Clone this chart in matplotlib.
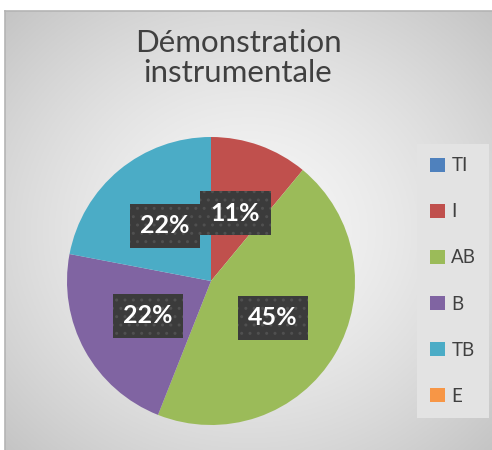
import numpy as np
import matplotlib
matplotlib.use("Agg")
import matplotlib.pyplot as plt
from matplotlib.patches import Patch

categories = ["TI", "I", "AB", "B", "TB", "E"]
values = [0, 11, 45, 22, 22, 0]
colors = ["#4f81bd", "#c0504d", "#9bbb59", "#8064a2", "#4bacc6", "#f79646"]
title = "Démonstration\ninstrumentale"

W, H = 492, 450
fig = plt.figure(figsize=(W / 100, H / 100), dpi=100)
fig.patch.set_facecolor("white")

# chart area background with radial gradient
x0, y0_top = 5, 11
bg = fig.add_axes([x0 / W, 0, (W - x0) / W, (H - y0_top) / H])
bg.set_axis_off()
ny, nx = 300, 300
yy, xx = np.mgrid[0:ny, 0:nx]
cx, cy = nx * 0.5, ny * 0.5
r = np.sqrt(((xx - cx) / nx) ** 2 + ((yy - cy) / ny) ** 2) / 0.707
r = np.clip(r, 0, 1)
val = 0.965 - (0.965 - 0.77) * r ** 1.5
bg.imshow(np.dstack([val, val, val]), extent=[0, 1, 0, 1], aspect="auto", zorder=0)
bg.set_xlim(0, 1)
bg.set_ylim(0, 1)
bg.plot([0, 0], [0, 1], color="#b4b4b4", lw=1.2, transform=bg.transAxes, clip_on=False)
bg.plot([0, 1], [1, 1], color="#b4b4b4", lw=1.2, transform=bg.transAxes, clip_on=False)

fig.text(238 / W, 1 - 58 / H, title, ha="center", va="center", fontsize=22.5,
         color="#404040", family=["Lato", "DejaVu Sans"], linespacing=1.05)

# pie
pcx, pcy, pr = 211, 281, 144
ax = fig.add_axes([(pcx - pr) / W, (H - pcy - pr) / H, 2 * pr / W, 2 * pr / H])
ax.set_axis_off()

def fmt(p):
    return "" if p < 0.5 else f"{p:.0f}%"

wedges, texts, autotexts = ax.pie(values, colors=colors, startangle=90, counterclock=False,
                                  radius=1, autopct=fmt, pctdistance=0.5,
                                  wedgeprops=dict(linewidth=0))
ax.set_xlim(-1, 1)
ax.set_ylim(-1, 1)
for t in autotexts:
    if t.get_text():
        t.set_color("white")
        t.set_fontsize(18)
        t.set_fontweight("bold")
        t.set_family(["Lato", "DejaVu Sans"])
        t.set_bbox(dict(boxstyle="square,pad=0.42", facecolor="#3b3b3b", edgecolor="#505050",
                        hatch="..", linewidth=0))
        t.set_zorder(5)

# legend
handles = [Patch(facecolor=c, edgecolor="none") for c in colors]
leg = fig.legend(handles, categories, loc="center left",
                 bbox_to_anchor=(417 / W, 1 - 281 / H), bbox_transform=fig.transFigure,
                 frameon=True, fancybox=False, labelspacing=1.55,
                 handlelength=0.78, handleheight=0.78, handletextpad=0.35,
                 borderpad=0.7, borderaxespad=0,
                 prop=dict(family=["Lato", "DejaVu Sans"], size=13.5))
leg.get_frame().set_facecolor("#e3e3e3")
leg.get_frame().set_edgecolor("none")
leg.get_frame().set_alpha(1)
for txt in leg.get_texts():
    txt.set_color("#404040")

fig.savefig("out.png", dpi=100)
